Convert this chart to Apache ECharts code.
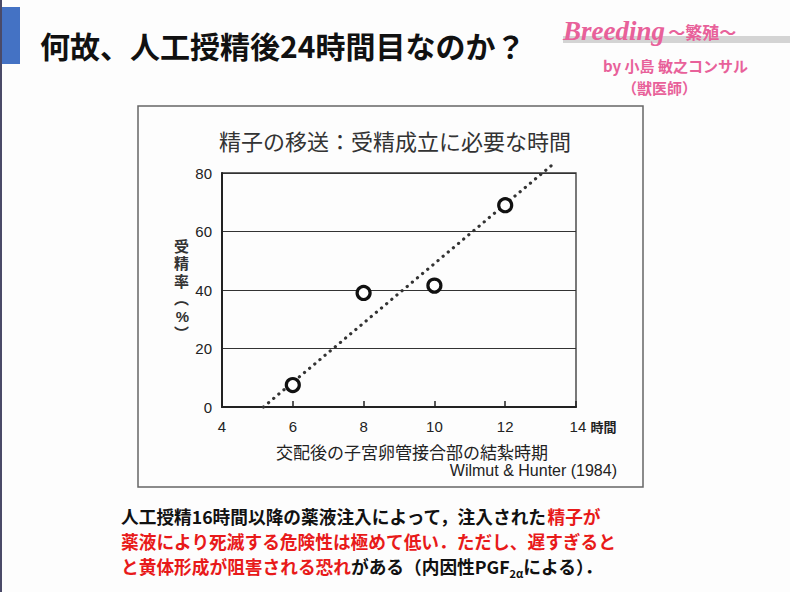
<!DOCTYPE html>
<html>
<head>
<meta charset="utf-8">
<script src="https://cdn.jsdelivr.net/npm/echarts@6/dist/echarts.min.js"></script>
<style>
html,body{margin:0;padding:0;background:#fdfdfd;}
#c{width:790px;height:592px;}
</style>
</head>
<body>
<div id="c"></div>
<script>
// ---- data ----
const ligationHours = [6, 8, 10, 12];
const fertilizationRate = [7.5, 39, 41.5, 69];
const trendX = [5.17, 13.3];
const trendY = [0, 82.5];
const xTickValues = [4, 6, 8, 10, 12, 14];
const yTickValues = [0, 20, 40, 60, 80];

const slideTitle = '何故、人工授精後24時間目なのか？';
const chartTitle = '精子の移送：受精成立に必要な時間';
const xAxisName = '交配後の子宮卵管接合部の結紮時期';
const yAxisName = ['受', '精', '率', '︵', '%', '︶'];
const sourceText = 'Wilmut & Hunter (1984)';

const jp = '"Noto Sans CJK JP", sans-serif';
const red = '#e81a1a';
const pink = '#e8619a';

const chart = echarts.init(document.getElementById('c'), null, {renderer: 'svg'});

const option = {
  backgroundColor: '#fdfdfd',
  animation: false,
  title: {
    text: chartTitle,
    left: 'center',
    top: 124,
    textStyle: {fontFamily: jp, fontSize: 22, fontWeight: 'normal', color: '#333'}
  },
  grid: {
    left: 222, right: 214, top: 173, bottom: 185,
    show: true, borderColor: '#333', borderWidth: 1.3, backgroundColor: 'transparent'
  },
  xAxis: {
    type: 'value',
    min: 4, max: 14, interval: 2,
    name: xAxisName,
    nameLocation: 'middle',
    nameGap: 36,
    nameTextStyle: {fontFamily: jp, fontSize: 17, color: '#222', padding: [0, 0, 0, 26]},
    axisLine: {show: true, onZero: false, lineStyle: {color: '#222', width: 2}},
    axisTick: {show: true, inside: true, length: 6, lineStyle: {color: '#222', width: 1.5}},
    splitLine: {show: false},
    axisLabel: {
      margin: 12,
      fontFamily: 'Liberation Sans, Arial, sans-serif',
      fontSize: 15,
      color: '#222',
      formatter: function (v) {
        if (v === xTickValues[xTickValues.length - 1]) return '{p|}' + v + ' {u|時間}';
        return String(v);
      },
      rich: {
        p: {width: 34},
        u: {fontFamily: jp, fontSize: 13, fontWeight: 'bold', color: '#222'}
      }
    }
  },
  yAxis: {
    type: 'value',
    min: 0, max: 80, interval: 20,
    name: yAxisName.join('\n'),
    nameLocation: 'middle',
    nameRotate: 0,
    nameGap: 33,
    nameTextStyle: {fontFamily: '"Liberation Sans", "Noto Sans CJK JP", sans-serif', fontSize: 15, fontWeight: 'bold', color: '#333', lineHeight: 17.5},
    axisLine: {show: true, lineStyle: {color: '#222', width: 2}},
    axisTick: {show: false},
    splitLine: {show: true, lineStyle: {color: '#333', width: 1.2}},
    axisLabel: {
      margin: 10,
      fontFamily: 'Liberation Sans, Arial, sans-serif',
      fontSize: 15,
      color: '#222'
    }
  },
  series: [
    {
      type: 'line',
      data: trendX.map((x, i) => [x, trendY[i]]),
      clip: false,
      symbol: 'none',
      silent: true,
      lineStyle: {color: '#333', width: 3.2, type: [0.1, 6.6], cap: 'round'},
      z: 2
    },
    {
      type: 'scatter',
      data: ligationHours.map((x, i) => [x, fertilizationRate[i]]),
      symbol: 'circle',
      symbolSize: 13,
      itemStyle: {color: '#fff', borderColor: '#111', borderWidth: 3.2, opacity: 1},
      z: 3
    }
  ],
  graphic: [
    // left dark strip and blue marker
    {type: 'rect', shape: {x: 0, y: 0, width: 2, height: 592}, style: {fill: '#4a4a68'}, z: 0},
    {type: 'rect', shape: {x: 2, y: 7, width: 18, height: 57}, style: {fill: '#4472c4'}, z: 0},
    // slide title
    {type: 'text', x: 40, y: 45, style: {text: slideTitle, fontFamily: jp, fontSize: 30, fontWeight: 'bold', fill: '#111', textVerticalAlign: 'middle'}},
    // logo
    {type: 'rect', shape: {x: 563, y: 36, width: 227, height: 7}, style: {fill: '#d4d4d4'}, z: 0},
    {type: 'text', x: 563, y: 31, style: {
      text: '{a|Breeding} {b|～繁殖～}',
      textVerticalAlign: 'middle',
      rich: {
        a: {fontFamily: 'Liberation Serif, serif', fontStyle: 'italic', fontWeight: 'bold', fontSize: 27, fill: pink, color: pink},
        b: {fontFamily: jp, fontWeight: 'bold', fontSize: 17, fill: pink, color: pink}
      }
    }, z: 5},
    {type: 'text', x: 603, y: 65, style: {text: 'by 小島 敏之コンサル', fontFamily: jp, fontSize: 15, fontWeight: 'bold', fill: pink, textVerticalAlign: 'middle'}},
    {type: 'text', x: 622, y: 87, style: {text: '（獣医師）', fontFamily: jp, fontSize: 15, fontWeight: 'bold', fill: pink, textVerticalAlign: 'middle'}},
    // figure frame
    {type: 'rect', shape: {x: 138, y: 106, width: 505, height: 381}, style: {fill: 'none', stroke: '#666', lineWidth: 1.5}, z: 0},
    // source
    {type: 'text', x: 617, y: 470, style: {text: sourceText, fontFamily: 'Liberation Sans, Arial, sans-serif', fontSize: 16, fill: '#222', textAlign: 'right', textVerticalAlign: 'middle'}},
    // bottom note
    {type: 'text', x: 121, y: 503, style: {
      text: '{k|人工授精16時間以降の薬液注入によって，注入された}{r|精子が}\n' +
            '{r|薬液により死滅する危険性は極めて低い．ただし、遅すぎると}\n' +
            '{r|と黄体形成が阻害される恐れ}{k|がある（内因性PGF}{s|2α}{k|による）．}',
      rich: {
        k: {fontFamily: jp, fontSize: 17.7, fontWeight: 'bold', fill: '#111', color: '#111', lineHeight: 25},
        r: {fontFamily: jp, fontSize: 17.7, fontWeight: 'bold', fill: red, color: red, lineHeight: 25},
        s: {fontFamily: jp, fontSize: 11, fontWeight: 'bold', fill: '#111', color: '#111', lineHeight: 25, verticalAlign: 'bottom', padding: [8, 0, 0, 0]}
      }
    }}
  ]
};
chart.setOption(option);
</script>
</body>
</html>
